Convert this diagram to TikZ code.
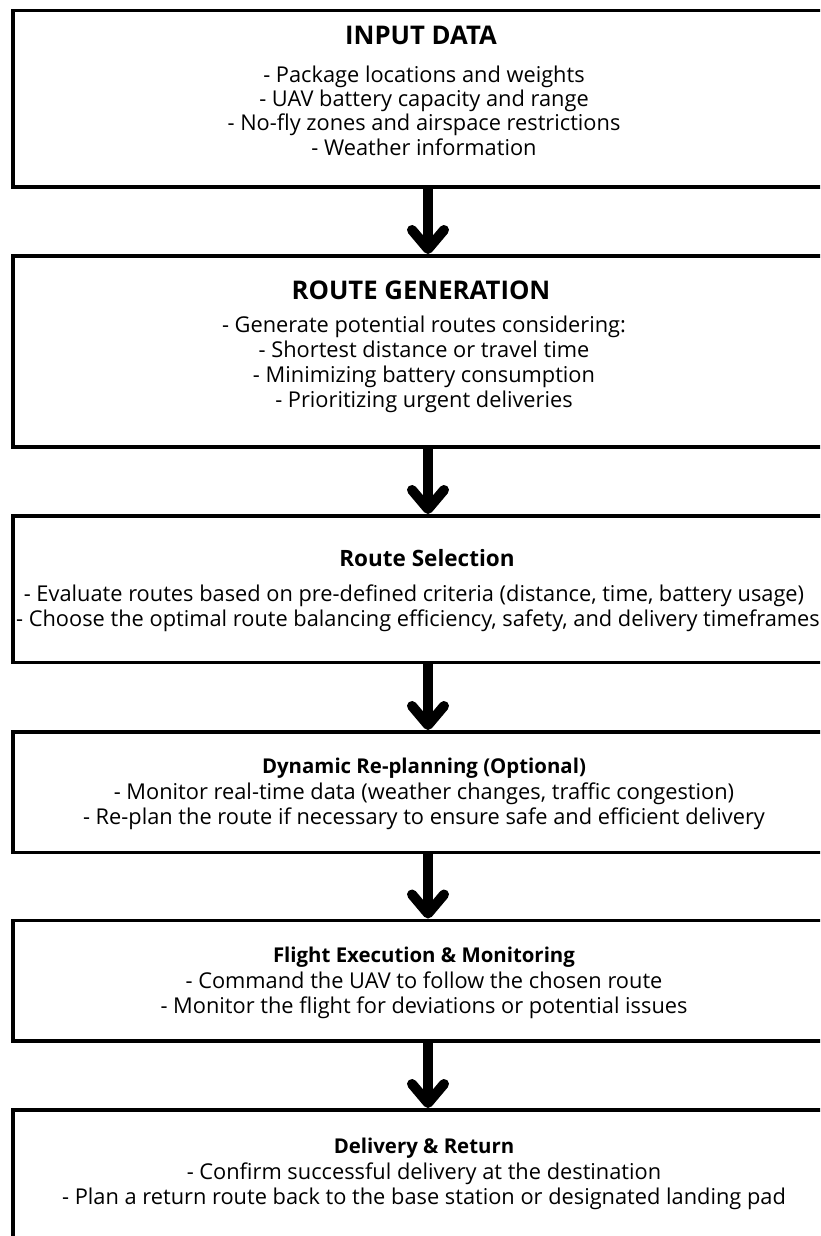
\documentclass[tikz,border=0pt]{standalone}
\usepackage{fontspec}
\setmainfont{Open Sans}
\usetikzlibrary{calc}
\tikzset{
  stage/.style={draw=black, line width=3.5pt, minimum width=830pt, inner sep=0pt, outer sep=0pt},
  bigtitle/.style={font=\fontsize{25.7}{30}\selectfont\bfseries, anchor=base, inner sep=0pt},
  midtitle/.style={font=\fontsize{22.5}{26}\selectfont\bfseries, anchor=base, inner sep=0pt},
  smalltitle/.style={font=\fontsize{20.4}{24}\selectfont\bfseries, anchor=base, inner sep=0pt},
  item/.style={font=\fontsize{21.8}{26}\selectfont, anchor=base, inner sep=0pt},
  shaft/.style={line width=10pt, line cap=butt},
  barb/.style={line width=10pt, line cap=round, line join=round},
}
% thick downward arrow from the bottom of one stage to the top of the next
\newcommand\flowarrow[2]{%
  \draw[shaft] (#1.south) -- ($(#2.north)+(0,-7)$);
  \draw[barb] ($(#2.north)+(-16,-26)$) -- ($(#2.north)+(0,-7)$) -- ($(#2.north)+(16,-26)$);
}
\begin{document}
\begin{tikzpicture}[x=1pt,y=-1pt]
\useasboundingbox (0,0) rectangle (820,1236);
\fill[white] (0,0) rectangle (820,1236);
\clip (0,0) rectangle (820,1236);

% stages
\node[stage, minimum height=176.5pt] (input)    at (428,98.75)  {};
\node[stage, minimum height=191pt]   (gen)      at (428,351.5)  {};
\node[stage, minimum height=146.5pt] (select)   at (428,589.25) {};
\node[stage, minimum height=120.5pt] (replan)   at (428,792.25) {};
\node[stage, minimum height=120.5pt] (execute)  at (428,980.75) {};
\node[stage, minimum height=180pt]   (deliver)  at (428,1200)   {};

% stage texts
\node[bigtitle] (t1) at (421,45) {INPUT DATA};
\node[item] (t1a) at (424,83)  {- Package locations and weights};
\node[item] (t1b) at (424,107) {- UAV battery capacity and range};
\node[item] (t1c) at (424,131) {- No-fly zones and airspace restrictions};
\node[item] (t1d) at (424,155) {- Weather information};

\node[bigtitle] (t2) at (421,299) {ROUTE GENERATION};
\node[item] (t2a) at (424,332) {- Generate potential routes considering:};
\node[item] (t2b) at (424,357) {- Shortest distance or travel time};
\node[item] (t2c) at (424,382) {- Minimizing battery consumption};
\node[item] (t2d) at (424,407) {- Prioritizing urgent deliveries};

\node[midtitle] (t3) at (427,566) {Route Selection};
\node[item] (t3a) at (414,601) {- Evaluate routes based on pre-defined criteria (distance, time, battery usage)};
\node[item] (t3b) at (418,626) {- Choose the optimal route balancing efficiency, safety, and delivery timeframes};

\node[smalltitle] (t4) at (424,773) {Dynamic Re-planning (Optional)};
\node[item] (t4a) at (424,799) {- Monitor real-time data (weather changes, traffic congestion)};
\node[item] (t4b) at (424,824) {- Re-plan the route if necessary to ensure safe and efficient delivery};

\node[smalltitle] (t5) at (424,962) {Flight Execution \& Monitoring};
\node[item] (t5a) at (424,988)  {- Command the UAV to follow the chosen route};
\node[item] (t5b) at (424,1013) {- Monitor the flight for deviations or potential issues};

\node[smalltitle] (t6) at (424,1153) {Delivery \& Return};
\node[item] (t6a) at (424,1179) {- Confirm successful delivery at the destination};
\node[item] (t6b) at (424,1204) {- Plan a return route back to the base station or designated landing pad};

% connectors
\flowarrow{input}{gen}
\flowarrow{gen}{select}
\flowarrow{select}{replan}
\flowarrow{replan}{execute}
\flowarrow{execute}{deliver}
\end{tikzpicture}
\end{document}
